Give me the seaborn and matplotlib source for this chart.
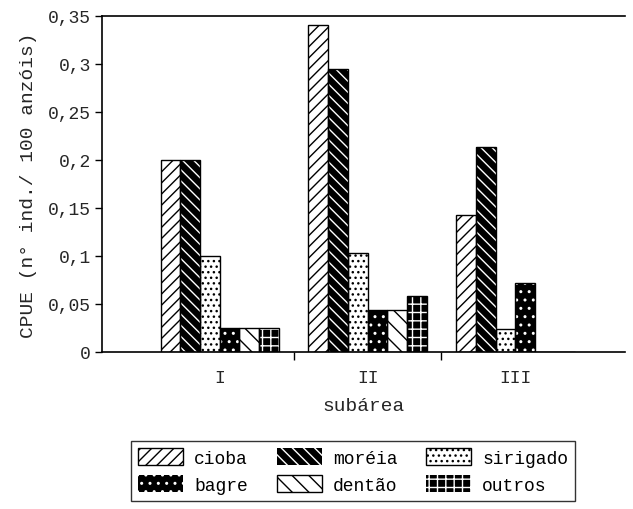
import matplotlib
matplotlib.use("Agg")
import matplotlib.pyplot as plt
import seaborn as sns
import pandas as pd
from matplotlib.patches import Patch, Rectangle

subareas = ["I", "II", "III"]
species = ["cioba", "moréia", "sirigado", "bagre", "dentão", "outros"]
cioba = [0.20, 0.34, 0.143]
moreia = [0.20, 0.295, 0.213]
sirigado = [0.10, 0.103, 0.024]
bagre = [0.025, 0.044, 0.072]
dentao = [0.025, 0.044, 0.0]
outros = [0.025, 0.058, 0.0]
yticks = [0, 0.05, 0.1, 0.15, 0.2, 0.25, 0.3, 0.35]
ytick_labels = ["0", "0,05", "0,1", "0,15", "0,2", "0,25", "0,3", "0,35"]

series = [cioba, moreia, sirigado, bagre, dentao, outros]
rows = []
for sp, vals in zip(species, series):
    for sa, v in zip(subareas, vals):
        rows.append({"subarea": sa, "especie": sp, "cpue": v})
df = pd.DataFrame(rows)

sns.set_theme(style="white")
plt.rcParams['font.family'] = ['Liberation Mono', 'DejaVu Sans Mono']
plt.rcParams['hatch.linewidth'] = 1.0

# style: (face, hatch colour, hatch)
styles = {
    "cioba": ("white", "black", "///"),
    "moréia": ("black", "white", "\\\\\\"),
    "sirigado": ("white", "black", "..."),
    "bagre": ("black", "white", ".."),
    "dentão": ("white", "black", "\\\\"),
    "outros": ("black", "white", "++"),
}

fig = plt.figure(figsize=(6.33, 5.10), dpi=100)
ax = fig.add_axes([0.161, 0.308, 0.826, 0.659])

sns.barplot(data=df, x="subarea", y="cpue", hue="especie", hue_order=species,
            order=subareas, errorbar=None, width=0.8, gap=0, ax=ax,
            palette=["white"] * 6, legend=False)

for sp, cont in zip(species, ax.containers):
    face, hc, h = styles[sp]
    for p in cont.patches:
        p.set_facecolor(face)
        p.set_edgecolor(hc)
        p.set_hatch(h)
        p.set_linewidth(0)
        ax.add_patch(Rectangle(p.get_xy(), p.get_width(), p.get_height(),
                               fill=False, edgecolor="black", linewidth=1.0, zorder=3))

ax.set_ylim(0, 0.35)
ax.set_xlim(-0.797, 2.74)
ax.set_yticks(yticks)
ax.set_yticklabels(ytick_labels, fontsize=13)
ax.set_xticks([0, 1, 2])
ax.set_xticklabels(subareas, fontsize=13)
ax.set_xticks([0.5, 1.5], minor=True)
ax.tick_params(axis="x", which="major", length=0, pad=12)
ax.tick_params(axis="x", which="minor", length=6, width=1, direction="out", bottom=True, color="black")
ax.tick_params(axis="y", which="major", length=5, width=1, direction="out", left=True, color="black", pad=3)
ax.set_xlabel("subárea", fontsize=14, labelpad=8)
ax.set_ylabel("CPUE (n° ind./ 100 anzóis)", fontsize=14, labelpad=8)

for side in ["left", "bottom", "top"]:
    ax.spines[side].set_visible(True)
    ax.spines[side].set_color("black")
    ax.spines[side].set_linewidth(1.2)
ax.spines["right"].set_visible(False)

handles = []
for sp in species:
    face, hc, h = styles[sp]
    handles.append(Patch(facecolor=face, edgecolor=hc, hatch=h,
                         linewidth=1.0 if face == "white" else 0, label=sp))
order = [0, 3, 1, 4, 2, 5]
leg = fig.legend([handles[i] for i in order], [species[i] for i in order],
                 loc="upper center", bbox_to_anchor=(0.558, 0.134), ncol=3,
                 fontsize=13, frameon=True, fancybox=False, edgecolor="black",
                 handlelength=2.5, handleheight=1.1, handletextpad=0.6,
                 columnspacing=1.6, borderpad=0.4, labelspacing=0.45,
                 borderaxespad=0)
leg.get_frame().set_linewidth(1.0)
for t in leg.get_texts():
    t.set_color("black")

fig.savefig("out.png", dpi=100, facecolor="white")
